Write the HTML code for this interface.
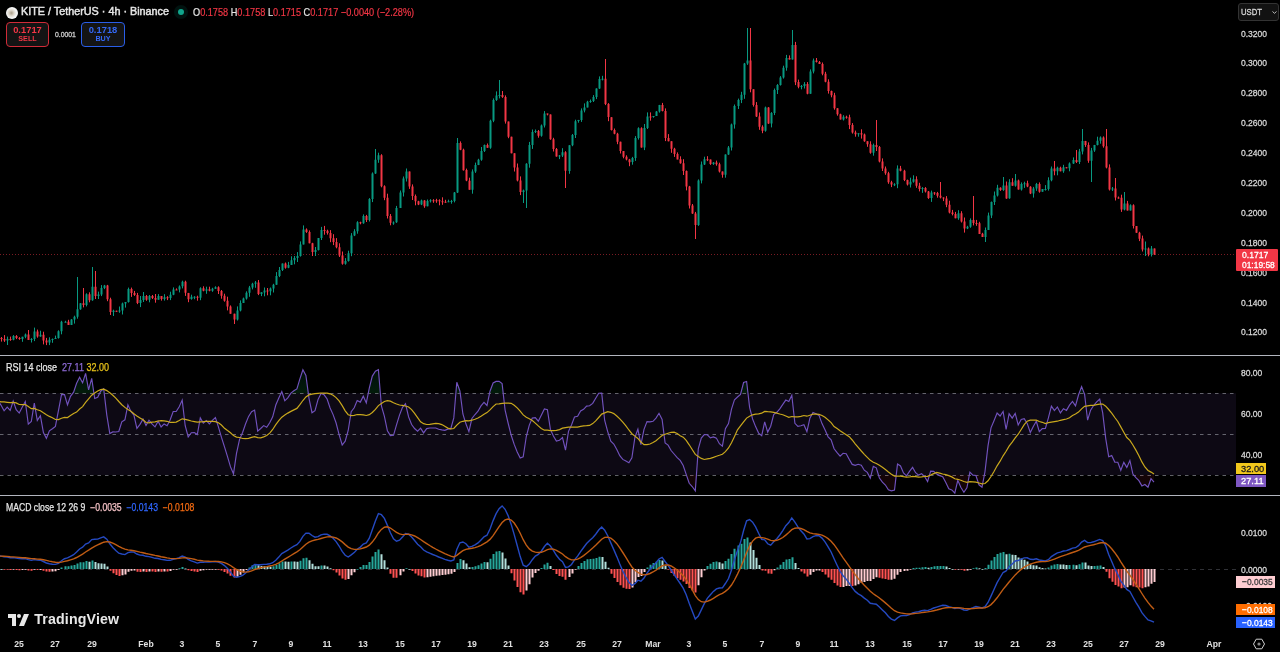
<!DOCTYPE html><html><head><meta charset="utf-8"><title>KITE / TetherUS</title><style>
*{margin:0;padding:0;box-sizing:border-box}
html,body{width:1280px;height:652px;background:#000;overflow:hidden}
body{position:relative;font-family:"Liberation Sans",Arial,sans-serif;color:#d1d4dc}
svg{position:absolute;left:0;top:0}
.t{position:absolute;white-space:nowrap;line-height:1}

</style></head><body>
<svg width="1280" height="652" viewBox="0 0 1280 652">
<defs><linearGradient id="obg" x1="0" y1="362.6" x2="0" y2="393.2" gradientUnits="userSpaceOnUse"><stop offset="0" stop-color="#089981" stop-opacity="0.05"/><stop offset="1" stop-color="#0c8a30" stop-opacity="0.2"/></linearGradient>
<linearGradient id="osg" x1="0" y1="475.0" x2="0" y2="505.6" gradientUnits="userSpaceOnUse"><stop offset="0" stop-color="#b2283a" stop-opacity="0.12"/><stop offset="1" stop-color="#f23645" stop-opacity="0.05"/></linearGradient></defs>
<rect x="0" y="393.2" width="1236" height="81.8" fill="#0d0914"/>
<path d="M0 393.5H1236" stroke="#a0a3ac" stroke-opacity="0.6" stroke-dasharray="3.5 4"/>
<path d="M0 434.5H1236" stroke="#a0a3ac" stroke-opacity="0.6" stroke-dasharray="3.5 4"/>
<path d="M0 475.5H1236" stroke="#a0a3ac" stroke-opacity="0.6" stroke-dasharray="3.5 4"/>
<path d="M0 569.5H1236" stroke="#787b86" stroke-opacity="0.4" stroke-dasharray="4 4"/>
<path d="M0 254.5H1236" stroke="#f23645" stroke-opacity="0.5" stroke-dasharray="1 2"/>
<path d="M-1.5 334.0V339.7 M7.5 336.6V345.0 M13.5 335.1V340.3 M22.5 336.8V341.8 M25.5 333.5V338.2 M31.5 338.1V342.5 M34.5 327.6V341.1 M40.5 330.7V336.7 M49.5 337.3V345.1 M52.5 338.5V342.8 M55.5 335.6V339.0 M58.5 330.3V338.6 M61.5 320.8V334.3 M65.5 320.8V322.3 M71.5 319.1V325.0 M74.5 315.7V323.6 M77.5 277.0V318.7 M80.5 303.2V309.8 M86.5 293.3V306.4 M92.5 267.0V300.8 M98.5 291.6V299.0 M101.5 285.1V296.1 M104.5 284.9V289.1 M113.5 309.7V316.0 M119.5 306.5V312.8 M122.5 302.6V314.5 M125.5 302.1V307.6 M128.5 287.6V302.6 M140.5 296.0V307.1 M143.5 292.0V302.0 M149.5 295.0V302.3 M158.5 294.1V299.7 M164.5 294.2V300.6 M170.5 291.7V300.1 M173.5 287.4V295.2 M179.5 285.4V292.4 M182.5 280.7V288.4 M191.5 294.7V299.7 M194.5 296.2V299.2 M200.5 287.3V300.2 M206.5 286.7V293.8 M212.5 287.8V291.8 M215.5 286.3V288.8 M237.5 306.4V320.5 M240.5 300.4V311.4 M243.5 297.6V302.9 M246.5 291.3V299.6 M249.5 285.9V296.8 M252.5 282.8V289.4 M255.5 281.0V287.8 M261.5 292.3V296.1 M264.5 287.5V296.3 M270.5 287.5V295.3 M273.5 283.8V292.5 M276.5 272.1V284.8 M279.5 267.0V277.1 M282.5 263.5V271.0 M288.5 261.9V268.2 M291.5 256.3V264.9 M294.5 256.0V264.3 M297.5 252.1V262.0 M300.5 241.4V256.6 M303.5 225.4V244.4 M315.5 247.0V256.0 M318.5 238.0V250.5 M321.5 226.9V240.0 M345.5 258.1V264.7 M348.5 250.7V261.6 M351.5 233.1V256.2 M354.5 229.2V236.1 M357.5 221.2V233.7 M363.5 214.4V223.8 M369.5 198.1V221.5 M372.5 172.4V202.1 M375.5 149.0V173.9 M378.5 152.7V162.8 M393.5 221.4V224.8 M396.5 205.9V222.9 M400.5 190.5V207.9 M403.5 176.5V196.5 M406.5 168.5V181.5 M421.5 199.6V205.1 M427.5 199.5V206.3 M430.5 199.2V202.5 M448.5 199.7V202.2 M451.5 199.9V203.7 M454.5 192.0V202.4 M457.5 138.0V193.0 M472.5 169.4V193.7 M475.5 162.6V172.9 M478.5 158.8V165.1 M481.5 147.0V160.8 M484.5 144.5V152.0 M490.5 119.7V148.8 M493.5 98.4V122.2 M496.5 91.4V100.9 M499.5 80.0V98.4 M523.5 189.6V203.0 M526.5 163.2V208.0 M529.5 141.9V167.7 M532.5 129.5V148.9 M535.5 129.5V133.0 M541.5 124.5V136.7 M544.5 111.1V127.5 M559.5 155.0V159.1 M562.5 148.2V157.0 M569.5 145.2V173.8 M572.5 134.0V146.2 M575.5 119.7V138.0 M578.5 119.9V122.7 M581.5 108.4V121.9 M584.5 103.4V112.4 M587.5 100.8V107.4 M590.5 99.5V102.8 M593.5 95.1V102.0 M596.5 88.4V99.1 M599.5 76.4V88.9 M602.5 75.8V80.4 M632.5 156.9V164.7 M635.5 136.1V160.9 M638.5 127.3V139.6 M644.5 124.0V150.1 M647.5 112.4V129.0 M653.5 116.0V117.7 M656.5 111.1V116.0 M659.5 104.9V112.6 M698.5 179.4V225.9 M701.5 161.5V183.4 M704.5 156.7V165.0 M713.5 162.1V164.9 M725.5 154.4V177.7 M728.5 146.0V154.9 M731.5 123.6V150.5 M734.5 104.5V128.6 M738.5 98.6V109.0 M741.5 91.8V103.1 M744.5 62.9V98.8 M747.5 28.0V64.9 M765.5 106.6V131.7 M771.5 112.1V127.4 M774.5 88.5V115.1 M777.5 84.1V94.0 M780.5 76.1V85.6 M783.5 65.7V78.6 M786.5 54.9V70.7 M792.5 30.0V59.5 M801.5 85.0V89.3 M804.5 82.1V88.5 M810.5 69.4V93.8 M813.5 58.5V73.4 M843.5 115.2V120.5 M858.5 133.3V136.7 M873.5 143.6V155.7 M894.5 183.2V186.1 M897.5 165.4V188.2 M910.5 177.7V187.5 M913.5 175.3V182.7 M922.5 187.1V192.9 M931.5 190.6V201.9 M958.5 210.2V219.8 M967.5 225.8V229.1 M970.5 218.4V227.8 M985.5 227.5V242.0 M988.5 212.6V230.0 M991.5 201.5V218.1 M994.5 191.5V205.0 M997.5 184.8V196.5 M1003.5 177.0V190.9 M1009.5 179.2V198.8 M1015.5 174.0V186.7 M1021.5 182.4V190.6 M1024.5 181.7V187.9 M1033.5 186.9V197.6 M1036.5 182.9V190.9 M1042.5 189.1V191.7 M1045.5 185.1V190.6 M1048.5 177.3V190.6 M1051.5 166.5V181.3 M1057.5 166.7V175.3 M1063.5 164.8V172.8 M1069.5 162.4V171.3 M1073.5 157.4V163.9 M1079.5 148.9V164.0 M1082.5 129.0V154.4 M1091.5 147.9V182.0 M1094.5 144.9V151.9 M1097.5 136.7V145.4 M1100.5 136.4V143.7 M1112.5 187.0V191.0 M1124.5 192.0V210.4 M1130.5 204.3V210.5 M1145.5 241.5V256.0 M1151.5 246.0V256.5" stroke="#089981" stroke-width="1"/>
<path d="M1.5 337.0V341.6 M4.5 335.1V341.9 M10.5 336.6V340.8 M16.5 335.1V339.1 M19.5 337.1V339.8 M28.5 330.0V340.0 M37.5 329.6V337.7 M43.5 331.7V344.4 M46.5 337.9V345.1 M68.5 319.8V325.0 M83.5 288.0V307.4 M89.5 292.3V302.3 M95.5 271.0V299.0 M107.5 284.9V301.2 M110.5 297.7V315.0 M116.5 310.7V311.8 M131.5 287.6V296.9 M134.5 290.9V295.9 M137.5 292.9V304.1 M146.5 295.0V300.8 M152.5 295.0V299.0 M155.5 294.0V302.7 M161.5 296.1V300.6 M167.5 296.2V300.1 M176.5 288.4V289.9 M185.5 280.7V295.9 M188.5 292.9V302.2 M197.5 295.7V300.7 M203.5 286.3V291.3 M209.5 286.7V291.3 M218.5 286.3V294.0 M221.5 290.0V298.7 M224.5 293.7V301.7 M227.5 296.7V310.4 M230.5 305.4V313.7 M234.5 313.7V324.0 M258.5 280.0V295.1 M267.5 288.0V295.3 M285.5 262.5V268.7 M306.5 228.4V232.9 M309.5 230.4V243.3 M312.5 242.8V256.0 M324.5 225.9V234.7 M327.5 229.7V234.6 M330.5 230.1V242.2 M333.5 234.2V245.1 M336.5 238.1V248.3 M339.5 243.3V257.0 M342.5 251.5V264.7 M360.5 221.7V224.3 M366.5 214.9V222.0 M381.5 154.2V187.3 M384.5 185.3V200.2 M387.5 193.7V218.5 M390.5 214.0V225.3 M409.5 171.5V188.9 M412.5 184.4V200.0 M415.5 194.5V205.3 M418.5 200.8V205.1 M424.5 200.1V207.8 M433.5 199.2V202.8 M436.5 198.8V202.8 M439.5 199.3V205.3 M442.5 197.3V204.8 M445.5 199.8V202.7 M460.5 141.4V150.2 M463.5 148.7V170.6 M466.5 168.6V181.2 M469.5 177.7V189.7 M487.5 143.5V147.8 M502.5 91.0V97.9 M505.5 95.4V123.6 M508.5 121.6V138.2 M511.5 136.7V153.3 M514.5 153.3V171.5 M517.5 163.5V181.4 M520.5 176.4V195.1 M538.5 130.0V137.7 M547.5 113.6V115.4 M550.5 114.4V139.8 M553.5 137.8V151.5 M556.5 148.0V156.6 M565.5 151.2V188.0 M605.5 59.0V105.1 M608.5 103.1V121.2 M611.5 117.2V130.5 M614.5 128.5V134.3 M617.5 132.8V144.2 M620.5 141.7V153.5 M623.5 151.0V158.3 M626.5 155.3V160.4 M629.5 158.9V166.2 M641.5 127.3V147.6 M650.5 112.4V120.7 M662.5 102.9V111.4 M665.5 108.4V141.1 M668.5 134.1V141.3 M671.5 141.3V152.8 M674.5 147.8V156.9 M677.5 152.4V159.3 M680.5 156.3V163.7 M683.5 159.2V175.0 M686.5 170.5V190.4 M689.5 185.9V208.5 M692.5 204.0V213.9 M695.5 211.9V239.0 M707.5 156.2V161.1 M710.5 159.6V164.9 M716.5 160.6V165.7 M719.5 162.7V172.5 M722.5 171.5V177.7 M750.5 28.0V92.3 M753.5 89.3V106.6 M756.5 102.1V117.0 M759.5 112.5V129.8 M762.5 125.3V133.2 M768.5 107.1V123.9 M789.5 55.4V59.5 M795.5 41.9V85.1 M798.5 79.6V88.3 M807.5 82.1V94.3 M816.5 58.0V62.5 M819.5 61.0V64.0 M822.5 62.5V75.3 M825.5 71.8V82.3 M828.5 79.3V93.6 M831.5 90.6V97.3 M834.5 92.8V109.7 M837.5 108.2V115.7 M840.5 113.7V119.5 M846.5 115.7V118.7 M849.5 114.7V129.1 M852.5 123.1V133.6 M855.5 130.6V136.7 M861.5 129.3V138.6 M864.5 133.6V141.8 M867.5 141.3V146.8 M870.5 141.3V153.7 M876.5 120.0V151.0 M879.5 146.0V162.4 M882.5 158.4V171.0 M885.5 166.5V174.8 M888.5 171.8V183.8 M891.5 180.8V187.1 M900.5 165.9V171.3 M904.5 169.8V181.1 M907.5 179.6V185.5 M916.5 176.3V187.8 M919.5 182.8V191.4 M925.5 187.1V192.5 M928.5 191.0V198.9 M934.5 192.1V194.9 M937.5 191.9V197.7 M940.5 182.0V198.4 M943.5 197.4V201.1 M946.5 196.1V207.2 M949.5 200.7V213.4 M952.5 209.9V215.4 M955.5 211.9V218.3 M961.5 211.2V222.5 M964.5 217.5V232.6 M973.5 196.0V225.4 M976.5 219.9V225.8 M979.5 221.8V233.8 M982.5 232.8V237.0 M1000.5 187.3V190.9 M1006.5 181.5V198.8 M1012.5 178.2V185.7 M1018.5 179.6V189.6 M1027.5 180.7V187.2 M1030.5 186.2V194.1 M1039.5 182.4V192.7 M1054.5 161.0V175.3 M1060.5 166.7V171.3 M1066.5 167.3V168.3 M1076.5 150.0V163.0 M1085.5 140.9V146.9 M1088.5 142.4V162.8 M1103.5 136.4V147.7 M1106.5 129.0V168.4 M1109.5 164.4V190.5 M1115.5 178.0V200.5 M1118.5 196.5V198.7 M1121.5 194.7V211.9 M1127.5 200.9V210.5 M1133.5 204.3V228.5 M1136.5 226.0V232.8 M1139.5 231.8V241.1 M1142.5 235.6V251.5 M1148.5 247.5V256.3 M1154.5 248.5V254.9" stroke="#f23645" stroke-width="1"/>
<path d="M-2.5 338.0h2v1.0h-2z M6.5 339.1h2v1.4h-2z M12.5 336.1h2v3.6h-2z M21.5 336.8h2v2.1h-2z M24.5 334.5h2v2.2h-2z M30.5 339.1h2v1.0h-2z M33.5 331.6h2v7.4h-2z M39.5 334.7h2v1.9h-2z M48.5 339.8h2v2.8h-2z M51.5 339.0h2v1.0h-2z M54.5 338.1h2v1.0h-2z M57.5 331.3h2v6.8h-2z M60.5 321.8h2v9.5h-2z M64.5 321.8h2v1.0h-2z M70.5 319.6h2v5.3h-2z M73.5 316.7h2v2.9h-2z M76.5 309.3h2v7.4h-2z M79.5 303.2h2v6.1h-2z M85.5 294.3h2v10.7h-2z M91.5 286.7h2v13.6h-2z M97.5 294.6h2v1.4h-2z M100.5 288.1h2v6.5h-2z M103.5 285.4h2v2.7h-2z M112.5 310.7h2v1.3h-2z M118.5 310.5h2v1.0h-2z M121.5 303.6h2v6.9h-2z M124.5 302.1h2v1.5h-2z M127.5 289.1h2v13.0h-2z M139.5 300.0h2v3.0h-2z M142.5 296.0h2v4.0h-2z M148.5 296.0h2v3.8h-2z M157.5 296.1h2v3.6h-2z M163.5 297.2h2v1.9h-2z M169.5 294.7h2v3.4h-2z M172.5 289.4h2v5.3h-2z M178.5 286.4h2v3.1h-2z M181.5 281.7h2v4.6h-2z M190.5 296.7h2v2.4h-2z M193.5 296.7h2v1.0h-2z M199.5 288.3h2v9.4h-2z M205.5 289.2h2v1.5h-2z M211.5 288.8h2v1.9h-2z M214.5 287.3h2v1.5h-2z M236.5 310.4h2v9.1h-2z M239.5 302.9h2v7.5h-2z M242.5 298.6h2v4.3h-2z M245.5 292.8h2v5.7h-2z M248.5 287.4h2v5.4h-2z M251.5 283.8h2v3.6h-2z M254.5 282.5h2v1.3h-2z M260.5 292.3h2v1.8h-2z M263.5 290.5h2v1.9h-2z M269.5 288.5h2v2.8h-2z M272.5 284.8h2v3.7h-2z M275.5 276.1h2v8.7h-2z M278.5 270.0h2v6.1h-2z M281.5 263.5h2v6.5h-2z M287.5 264.9h2v2.8h-2z M290.5 260.3h2v4.6h-2z M293.5 258.0h2v2.3h-2z M296.5 256.1h2v1.9h-2z M299.5 244.4h2v11.7h-2z M302.5 229.4h2v15.0h-2z M314.5 250.0h2v1.9h-2z M317.5 238.0h2v12.1h-2z M320.5 229.9h2v8.0h-2z M344.5 261.1h2v2.6h-2z M347.5 253.2h2v7.9h-2z M350.5 235.6h2v17.6h-2z M353.5 231.2h2v4.3h-2z M356.5 222.2h2v9.0h-2z M362.5 215.9h2v7.4h-2z M368.5 199.1h2v20.9h-2z M371.5 173.4h2v25.7h-2z M374.5 159.8h2v13.6h-2z M377.5 155.2h2v4.6h-2z M392.5 222.4h2v1.0h-2z M395.5 207.9h2v14.4h-2z M399.5 192.5h2v15.4h-2z M402.5 178.5h2v14.0h-2z M405.5 171.5h2v7.1h-2z M420.5 200.6h2v4.0h-2z M426.5 201.0h2v5.3h-2z M429.5 200.2h2v1.0h-2z M447.5 201.2h2v1.0h-2z M450.5 200.9h2v1.0h-2z M453.5 192.5h2v8.4h-2z M456.5 142.9h2v49.6h-2z M471.5 171.4h2v18.3h-2z M474.5 165.1h2v6.3h-2z M477.5 159.8h2v5.3h-2z M480.5 151.0h2v8.8h-2z M483.5 145.0h2v6.0h-2z M489.5 120.7h2v27.1h-2z M492.5 99.9h2v20.8h-2z M495.5 95.4h2v4.5h-2z M498.5 95.0h2v1.0h-2z M522.5 190.6h2v1.5h-2z M525.5 163.7h2v26.9h-2z M528.5 144.9h2v18.8h-2z M531.5 132.0h2v12.9h-2z M534.5 131.0h2v1.0h-2z M540.5 125.5h2v10.2h-2z M543.5 113.6h2v11.9h-2z M558.5 155.5h2v1.0h-2z M561.5 152.2h2v3.3h-2z M568.5 145.2h2v25.7h-2z M571.5 135.0h2v10.2h-2z M574.5 121.2h2v13.8h-2z M577.5 119.9h2v1.2h-2z M580.5 110.4h2v9.5h-2z M583.5 107.4h2v3.0h-2z M586.5 101.8h2v5.6h-2z M589.5 101.0h2v1.0h-2z M592.5 97.1h2v3.9h-2z M595.5 88.4h2v8.7h-2z M598.5 78.9h2v9.5h-2z M601.5 78.8h2v1.0h-2z M631.5 157.9h2v4.2h-2z M634.5 138.1h2v19.8h-2z M637.5 128.3h2v9.8h-2z M643.5 128.0h2v19.6h-2z M646.5 116.4h2v11.6h-2z M652.5 116.0h2v1.0h-2z M655.5 111.6h2v4.4h-2z M658.5 104.9h2v6.7h-2z M697.5 180.4h2v44.5h-2z M700.5 164.5h2v15.9h-2z M703.5 159.2h2v5.3h-2z M712.5 162.6h2v1.3h-2z M724.5 154.4h2v20.3h-2z M727.5 147.5h2v6.9h-2z M730.5 124.6h2v22.8h-2z M733.5 106.0h2v18.6h-2z M737.5 100.1h2v5.9h-2z M740.5 94.8h2v5.3h-2z M743.5 63.4h2v31.4h-2z M746.5 60.4h2v3.0h-2z M764.5 107.6h2v23.1h-2z M770.5 113.1h2v10.3h-2z M773.5 90.0h2v23.1h-2z M776.5 85.1h2v4.9h-2z M779.5 77.6h2v7.5h-2z M782.5 67.7h2v9.9h-2z M785.5 57.9h2v9.8h-2z M791.5 44.9h2v14.6h-2z M800.5 86.0h2v1.0h-2z M803.5 84.1h2v2.0h-2z M809.5 71.4h2v22.4h-2z M812.5 60.5h2v10.9h-2z M842.5 116.7h2v2.8h-2z M857.5 133.3h2v1.0h-2z M872.5 145.1h2v7.6h-2z M893.5 184.2h2v1.0h-2z M896.5 168.4h2v15.8h-2z M909.5 181.7h2v2.8h-2z M912.5 179.3h2v2.4h-2z M921.5 188.1h2v1.0h-2z M930.5 192.6h2v5.3h-2z M957.5 213.2h2v5.1h-2z M966.5 226.8h2v1.8h-2z M969.5 219.9h2v6.9h-2z M984.5 230.0h2v6.9h-2z M987.5 215.6h2v14.4h-2z M990.5 202.0h2v13.6h-2z M993.5 195.5h2v6.5h-2z M996.5 187.8h2v7.7h-2z M1002.5 185.5h2v4.4h-2z M1008.5 182.2h2v16.1h-2z M1014.5 180.6h2v5.1h-2z M1020.5 183.9h2v5.7h-2z M1023.5 183.2h2v1.0h-2z M1032.5 188.4h2v5.1h-2z M1035.5 183.9h2v4.5h-2z M1041.5 189.1h2v2.6h-2z M1044.5 189.1h2v1.0h-2z M1047.5 180.3h2v8.8h-2z M1050.5 168.5h2v11.8h-2z M1056.5 167.7h2v3.6h-2z M1062.5 167.3h2v4.0h-2z M1068.5 163.4h2v4.9h-2z M1072.5 159.9h2v3.5h-2z M1078.5 151.4h2v10.7h-2z M1081.5 140.9h2v10.5h-2z M1090.5 150.4h2v10.3h-2z M1093.5 144.9h2v5.5h-2z M1096.5 140.7h2v4.3h-2z M1099.5 137.4h2v3.3h-2z M1111.5 188.5h2v1.0h-2z M1123.5 203.4h2v6.0h-2z M1129.5 205.3h2v5.3h-2z M1144.5 248.5h2v1.0h-2z M1150.5 248.5h2v5.8h-2z" fill="#089981"/>
<path d="M0.5 338.0h2v1.1h-2z M3.5 339.1h2v1.3h-2z M9.5 339.1h2v1.0h-2z M15.5 336.1h2v1.9h-2z M18.5 338.1h2v1.0h-2z M27.5 334.5h2v5.5h-2z M36.5 331.6h2v5.0h-2z M42.5 334.7h2v5.7h-2z M45.5 340.4h2v2.2h-2z M67.5 321.8h2v3.1h-2z M82.5 303.2h2v1.8h-2z M88.5 294.3h2v6.0h-2z M94.5 286.7h2v9.3h-2z M106.5 285.4h2v13.8h-2z M109.5 299.2h2v12.8h-2z M115.5 310.7h2v1.0h-2z M130.5 289.1h2v3.8h-2z M133.5 292.9h2v2.1h-2z M136.5 294.9h2v8.1h-2z M145.5 296.0h2v3.7h-2z M151.5 296.0h2v2.0h-2z M154.5 298.0h2v1.7h-2z M160.5 296.1h2v3.0h-2z M166.5 297.2h2v1.0h-2z M175.5 289.4h2v1.0h-2z M184.5 281.7h2v11.1h-2z M187.5 292.9h2v6.3h-2z M196.5 296.7h2v1.0h-2z M202.5 288.3h2v2.5h-2z M208.5 289.2h2v1.5h-2z M217.5 287.3h2v3.7h-2z M220.5 291.0h2v4.7h-2z M223.5 295.7h2v5.0h-2z M226.5 300.7h2v5.8h-2z M229.5 306.4h2v7.3h-2z M233.5 313.7h2v5.8h-2z M257.5 282.5h2v11.6h-2z M266.5 290.5h2v1.0h-2z M284.5 263.5h2v4.2h-2z M305.5 229.4h2v2.6h-2z M308.5 231.9h2v11.4h-2z M311.5 243.3h2v8.6h-2z M323.5 229.9h2v1.0h-2z M326.5 230.7h2v2.4h-2z M329.5 233.1h2v5.1h-2z M332.5 238.2h2v3.9h-2z M335.5 242.1h2v5.2h-2z M338.5 247.3h2v8.2h-2z M341.5 255.5h2v8.2h-2z M359.5 222.2h2v1.0h-2z M365.5 215.9h2v4.1h-2z M380.5 155.2h2v31.1h-2z M383.5 186.3h2v11.4h-2z M386.5 197.7h2v18.2h-2z M389.5 216.0h2v6.8h-2z M408.5 171.5h2v15.0h-2z M411.5 186.4h2v9.6h-2z M414.5 196.0h2v5.3h-2z M417.5 201.3h2v3.3h-2z M423.5 200.6h2v5.7h-2z M432.5 200.2h2v1.0h-2z M435.5 200.3h2v1.0h-2z M438.5 200.3h2v1.0h-2z M441.5 201.3h2v1.0h-2z M444.5 201.8h2v1.0h-2z M459.5 142.9h2v6.8h-2z M462.5 149.7h2v20.5h-2z M465.5 170.1h2v10.5h-2z M468.5 180.7h2v9.1h-2z M486.5 145.0h2v2.8h-2z M501.5 95.0h2v1.9h-2z M504.5 96.9h2v24.7h-2z M507.5 121.6h2v15.1h-2z M510.5 136.7h2v16.5h-2z M513.5 153.3h2v14.2h-2z M516.5 167.5h2v12.9h-2z M519.5 180.4h2v11.7h-2z M537.5 131.0h2v4.7h-2z M546.5 113.6h2v1.0h-2z M549.5 114.4h2v24.9h-2z M552.5 139.3h2v9.7h-2z M555.5 149.0h2v7.5h-2z M564.5 152.2h2v18.6h-2z M604.5 78.8h2v25.3h-2z M607.5 104.1h2v13.0h-2z M610.5 117.2h2v12.8h-2z M613.5 130.0h2v3.8h-2z M616.5 133.8h2v7.9h-2z M619.5 141.7h2v9.4h-2z M622.5 151.0h2v5.8h-2z M625.5 156.8h2v2.6h-2z M628.5 159.4h2v2.8h-2z M640.5 128.3h2v19.3h-2z M649.5 116.4h2v1.0h-2z M661.5 104.9h2v6.0h-2z M664.5 110.9h2v27.2h-2z M667.5 138.1h2v3.2h-2z M670.5 141.3h2v7.5h-2z M673.5 148.8h2v5.1h-2z M676.5 153.9h2v5.5h-2z M679.5 159.3h2v3.9h-2z M682.5 163.2h2v7.8h-2z M685.5 171.0h2v15.4h-2z M688.5 186.4h2v19.1h-2z M691.5 205.5h2v7.9h-2z M694.5 213.4h2v11.5h-2z M706.5 159.2h2v1.0h-2z M709.5 159.6h2v4.4h-2z M715.5 162.6h2v1.6h-2z M718.5 164.2h2v7.3h-2z M721.5 171.5h2v3.2h-2z M749.5 60.4h2v28.9h-2z M752.5 89.3h2v15.7h-2z M755.5 105.1h2v11.4h-2z M758.5 116.5h2v10.3h-2z M761.5 126.8h2v3.9h-2z M767.5 107.6h2v15.8h-2z M788.5 57.9h2v1.6h-2z M794.5 44.9h2v37.3h-2z M797.5 82.1h2v4.7h-2z M806.5 84.1h2v9.7h-2z M815.5 60.5h2v1.5h-2z M818.5 62.0h2v2.0h-2z M821.5 64.0h2v9.8h-2z M824.5 73.8h2v7.9h-2z M827.5 81.8h2v9.3h-2z M830.5 91.1h2v4.2h-2z M833.5 95.3h2v12.9h-2z M836.5 108.2h2v6.0h-2z M839.5 114.2h2v5.3h-2z M845.5 116.7h2v1.0h-2z M848.5 117.2h2v7.9h-2z M851.5 125.1h2v7.5h-2z M854.5 132.6h2v1.6h-2z M860.5 133.3h2v1.3h-2z M863.5 134.6h2v6.7h-2z M866.5 141.3h2v3.0h-2z M869.5 144.3h2v8.4h-2z M875.5 145.1h2v1.8h-2z M878.5 147.0h2v14.4h-2z M881.5 161.4h2v7.1h-2z M884.5 168.5h2v4.8h-2z M887.5 173.3h2v9.0h-2z M890.5 182.3h2v2.3h-2z M899.5 168.4h2v2.4h-2z M903.5 170.8h2v9.3h-2z M906.5 180.1h2v4.3h-2z M915.5 179.3h2v6.5h-2z M918.5 185.8h2v3.1h-2z M924.5 188.1h2v3.4h-2z M927.5 191.5h2v6.4h-2z M933.5 192.6h2v1.0h-2z M936.5 192.9h2v2.8h-2z M939.5 195.7h2v1.7h-2z M942.5 197.4h2v1.2h-2z M945.5 198.6h2v6.1h-2z M948.5 204.7h2v7.7h-2z M951.5 212.4h2v1.5h-2z M954.5 213.9h2v4.4h-2z M960.5 213.2h2v8.3h-2z M963.5 221.5h2v7.0h-2z M972.5 219.9h2v3.0h-2z M975.5 222.9h2v1.0h-2z M978.5 223.3h2v10.6h-2z M981.5 233.8h2v3.1h-2z M999.5 187.8h2v2.1h-2z M1005.5 185.5h2v12.9h-2z M1011.5 182.2h2v3.5h-2z M1017.5 180.6h2v9.0h-2z M1026.5 183.2h2v3.4h-2z M1029.5 186.7h2v6.9h-2z M1038.5 183.9h2v7.8h-2z M1053.5 168.5h2v2.8h-2z M1059.5 167.7h2v3.6h-2z M1065.5 167.3h2v1.0h-2z M1075.5 159.9h2v2.2h-2z M1084.5 140.9h2v4.0h-2z M1087.5 144.9h2v15.9h-2z M1102.5 137.4h2v8.8h-2z M1105.5 146.2h2v21.2h-2z M1108.5 167.4h2v22.2h-2z M1114.5 188.5h2v9.0h-2z M1117.5 197.5h2v1.0h-2z M1120.5 197.7h2v11.7h-2z M1126.5 203.4h2v7.2h-2z M1132.5 205.3h2v20.7h-2z M1135.5 226.0h2v6.8h-2z M1138.5 232.8h2v5.9h-2z M1141.5 238.6h2v10.9h-2z M1147.5 248.5h2v5.8h-2z M1153.5 248.5h2v6.1h-2z" fill="#f23645"/>
<polygon points="72.8,393.2 73.6,392.2 76.6,383.2 79.6,377.2 82.6,382.8 85.6,373.3 88.6,389.9 91.7,378.4 93.9,393.2" fill="url(#obg)"/>
<polygon points="99.7,393.2 100.7,391.2 103.7,388.9 104.2,393.2" fill="url(#obg)"/>
<polygon points="281.1,393.2 281.8,391.6 282.3,393.2" fill="url(#obg)"/>
<polygon points="290.8,393.2 290.9,393.1 293.9,390.8 296.9,388.9 299.9,378.8 302.9,369.7 305.9,375.5 308.3,393.2" fill="url(#obg)"/>
<polygon points="368.3,393.2 369.3,388.2 372.3,376.1 375.4,371.2 378.4,369.7 380.3,393.2" fill="url(#obg)"/>
<polygon points="455.9,393.2 456.8,382.2 459.9,391.0 460.1,393.2" fill="url(#obg)"/>
<polygon points="489.6,393.2 490.0,391.2 493.1,383.0 496.1,381.4 499.1,381.3 502.1,383.6 503.2,393.2" fill="url(#obg)"/>
<polygon points="600.7,393.2 601.7,393.2 601.7,393.2" fill="url(#obg)"/>
<polygon points="740.9,393.2 743.6,382.5 746.6,381.5 747.9,393.2" fill="url(#obg)"/>
<polygon points="1079.2,393.2 1081.6,386.6 1084.1,393.2" fill="url(#obg)"/>
<polygon points="686.4,475.0 689.2,483.3 692.2,486.5 695.3,490.8 696.4,475.0" fill="url(#osg)"/>
<polygon points="868.6,475.0 870.3,478.1 871.1,475.0" fill="url(#osg)"/>
<polygon points="878.5,475.0 879.4,478.0 882.4,482.2 885.4,485.0 888.4,489.7 891.4,490.8 894.5,490.1 896.2,475.0" fill="url(#osg)"/>
<polygon points="905.6,475.0 906.5,475.9 907.2,475.0" fill="url(#osg)"/>
<polygon points="918.5,475.0 918.6,475.1 918.8,475.0" fill="url(#osg)"/>
<polygon points="923.0,475.0 924.6,476.5 927.6,481.5 929.5,475.0" fill="url(#osg)"/>
<polygon points="938.5,475.0 939.7,475.6 942.7,476.8 945.8,482.6 948.8,488.8 951.8,489.9 954.8,493.1 957.8,480.3 960.8,487.2 963.9,492.2 966.9,487.8 969.4,475.0" fill="url(#osg)"/>
<polygon points="972.8,475.0 972.9,475.1 975.9,475.5 979.0,484.8 982.0,487.3 984.3,475.0" fill="url(#osg)"/>
<polygon points="1133.7,475.0 1135.9,477.6 1138.9,480.7 1141.9,485.9 1144.9,484.5 1148.0,487.3 1151.0,478.7 1154.0,482.1 1154.0,475.0" fill="url(#osg)"/>
<polyline points="-1.9,400.8 1.1,405.3 4.1,410.8 7.2,407.2 10.2,410.4 13.2,401.1 16.2,409.7 19.2,413.1 22.2,407.2 25.3,401.5 28.3,424.2 31.3,421.5 34.3,403.1 37.3,420.4 40.4,415.8 43.4,432.5 46.4,438.3 49.4,430.8 52.4,428.8 55.4,426.4 58.5,410.4 61.5,394.6 64.5,394.6 67.5,404.8 70.5,396.3 73.6,392.2 76.6,383.2 79.6,377.2 82.6,382.8 85.6,373.3 88.6,389.9 91.7,378.4 94.7,398.5 97.7,397.2 100.7,391.2 103.7,388.9 106.8,415.1 109.8,433.5 112.8,431.9 115.8,432.0 118.8,431.5 121.8,421.8 124.9,419.8 127.9,404.8 130.9,411.5 133.9,415.1 136.9,428.4 140.0,424.4 143.0,419.1 146.0,425.4 149.0,420.2 152.0,423.9 155.0,426.9 158.1,421.2 161.1,427.0 164.1,423.9 167.1,425.8 170.1,419.9 173.2,411.5 176.2,411.5 179.2,406.7 182.2,400.1 185.2,425.7 188.2,437.0 191.3,432.7 194.3,432.6 197.3,434.6 200.3,418.0 203.3,423.1 206.3,420.5 209.4,423.9 212.4,420.3 215.4,417.5 218.4,426.8 221.4,437.2 224.5,446.9 227.5,456.6 230.5,466.9 233.5,473.8 236.5,453.3 239.5,439.6 242.6,432.5 245.6,423.8 248.6,416.4 251.6,411.8 254.6,410.1 257.7,431.1 260.7,428.5 263.7,425.6 266.7,427.2 269.7,422.7 272.7,416.8 275.8,405.0 278.8,398.1 281.8,391.6 284.8,400.8 287.8,397.8 290.9,393.1 293.9,390.8 296.9,388.9 299.9,378.8 302.9,369.7 305.9,375.5 309.0,398.3 312.0,412.7 315.0,410.7 318.0,399.6 321.0,393.4 324.1,394.8 327.1,399.0 330.1,408.0 333.1,414.6 336.1,423.0 339.1,434.7 342.2,445.0 345.2,441.2 348.2,430.5 351.2,411.7 354.2,407.8 357.2,400.5 360.3,402.1 363.3,396.2 366.3,402.9 369.3,388.2 372.3,376.1 375.4,371.2 378.4,369.7 381.4,406.0 384.4,416.4 387.4,430.8 390.4,435.6 393.5,435.3 396.5,424.8 399.5,415.1 402.5,407.4 405.5,403.8 408.6,416.9 411.6,424.5 414.6,428.5 417.6,431.1 420.6,428.1 423.6,432.9 426.7,428.6 429.7,428.0 432.7,428.0 435.7,428.0 438.7,429.2 441.8,429.9 444.8,430.3 447.8,429.1 450.8,428.7 453.8,417.9 456.8,382.2 459.9,391.0 462.9,414.0 465.9,423.8 468.9,431.6 471.9,418.5 475.0,414.5 478.0,411.2 481.0,405.9 484.0,402.4 487.0,405.5 490.0,391.2 493.1,383.0 496.1,381.4 499.1,381.3 502.1,383.6 505.1,410.1 508.1,423.0 511.2,435.3 514.2,444.4 517.2,451.9 520.2,458.1 523.2,456.9 526.3,436.5 529.3,425.1 532.3,418.1 535.3,417.6 538.3,421.2 541.3,415.3 544.4,408.9 547.4,409.6 550.4,429.4 553.4,436.0 556.4,441.0 559.5,440.2 562.5,437.6 565.5,450.2 568.5,431.3 571.5,425.0 574.5,417.0 577.6,416.3 580.6,411.0 583.6,409.3 586.6,406.1 589.6,405.7 592.7,403.4 595.7,398.3 598.7,393.3 601.7,393.2 604.7,420.5 607.7,431.6 610.8,441.3 613.8,444.0 616.8,449.5 619.8,455.7 622.8,459.4 625.9,461.0 628.9,462.8 631.9,457.8 634.9,437.5 637.9,429.2 640.9,444.6 644.0,429.3 647.0,421.6 650.0,421.8 653.0,421.3 656.0,418.1 659.0,413.3 662.1,419.5 665.1,442.9 668.1,445.1 671.1,450.5 674.1,454.0 677.2,457.7 680.2,460.4 683.2,465.5 686.2,474.4 689.2,483.3 692.2,486.5 695.3,490.8 698.3,448.8 701.3,438.0 704.3,434.6 707.3,434.8 710.4,437.8 713.4,436.9 716.4,438.1 719.4,443.7 722.4,446.1 725.4,428.7 728.5,423.6 731.5,409.1 734.5,399.7 737.5,397.0 740.5,394.5 743.6,382.5 746.6,381.5 749.6,407.4 752.6,419.0 755.6,426.6 758.6,433.1 761.7,435.6 764.7,421.9 767.7,432.1 770.7,426.2 773.7,414.6 776.8,412.3 779.8,408.8 782.8,404.4 785.8,400.1 788.8,401.5 791.8,395.2 794.9,423.3 797.9,426.3 800.9,425.8 803.9,424.7 806.9,431.6 809.9,418.2 813.0,412.5 816.0,413.7 819.0,415.4 822.0,423.6 825.0,429.8 828.1,436.8 831.1,439.9 834.1,448.8 837.1,452.7 840.1,456.1 843.1,453.3 846.2,453.7 849.2,459.3 852.2,464.4 855.2,465.4 858.2,464.3 861.3,465.2 864.3,470.2 867.3,472.4 870.3,478.1 873.3,466.4 876.3,467.8 879.4,478.0 882.4,482.2 885.4,485.0 888.4,489.7 891.4,490.8 894.5,490.1 897.5,464.1 900.5,466.0 903.5,473.0 906.5,475.9 909.5,471.4 912.6,467.4 915.6,472.7 918.6,475.1 921.6,473.7 924.6,476.5 927.6,481.5 930.7,471.1 933.7,471.4 936.7,474.1 939.7,475.6 942.7,476.8 945.8,482.6 948.8,488.8 951.8,489.9 954.8,493.1 957.8,480.3 960.8,487.2 963.9,492.2 966.9,487.8 969.9,472.2 972.9,475.1 975.9,475.5 979.0,484.8 982.0,487.3 985.0,471.6 988.0,445.9 991.0,427.9 994.0,420.7 997.1,413.0 1000.1,416.0 1003.1,411.5 1006.1,429.5 1009.1,413.6 1012.2,418.1 1015.2,413.4 1018.2,425.0 1021.2,419.4 1024.2,418.7 1027.2,423.4 1030.3,432.4 1033.3,426.4 1036.3,421.3 1039.3,431.7 1042.3,428.6 1045.4,428.5 1048.4,417.9 1051.4,406.1 1054.4,410.5 1057.4,407.0 1060.4,412.9 1063.5,408.7 1066.5,410.4 1069.5,405.1 1072.5,401.4 1075.5,405.8 1078.5,395.0 1081.6,386.6 1084.6,394.4 1087.6,420.2 1090.6,410.2 1093.6,405.5 1096.7,401.9 1099.7,399.2 1102.7,412.9 1105.7,438.3 1108.7,456.8 1111.7,455.6 1114.8,462.1 1117.8,462.3 1120.8,470.3 1123.8,462.4 1126.8,467.4 1129.9,460.5 1132.9,474.0 1135.9,477.6 1138.9,480.7 1141.9,485.9 1144.9,484.5 1148.0,487.3 1151.0,478.7 1154.0,482.1" fill="none" stroke="#7152bd" stroke-width="1.15"/>
<polyline points="-1.9,401.0 1.1,401.8 4.1,401.9 7.2,402.3 10.2,402.7 13.2,402.4 16.2,402.9 19.2,404.5 22.2,404.6 25.3,404.6 28.3,406.5 31.3,408.7 34.3,408.4 37.3,409.7 40.4,410.8 43.4,412.8 46.4,414.7 49.4,416.4 52.4,417.7 55.4,419.5 58.5,419.6 61.5,418.3 64.5,417.4 67.5,417.6 70.5,415.6 73.6,413.5 76.6,412.1 79.6,409.0 82.6,406.6 85.6,402.4 88.6,398.9 91.7,395.2 94.7,393.0 97.7,391.0 100.7,389.6 103.7,389.2 106.8,390.6 109.8,392.7 112.8,395.2 115.8,398.1 118.8,401.5 121.8,404.7 124.9,407.4 127.9,409.6 130.9,411.2 133.9,413.8 136.9,415.9 140.0,417.9 143.0,419.8 146.0,422.5 149.0,422.8 152.0,422.1 155.0,421.8 158.1,421.0 161.1,420.7 164.1,420.8 167.1,421.3 170.1,422.3 173.2,422.3 176.2,422.1 179.2,420.5 182.2,418.8 185.2,419.3 188.2,420.1 191.3,421.0 194.3,421.6 197.3,422.2 200.3,421.9 203.3,421.7 206.3,421.4 209.4,421.3 212.4,421.3 215.4,421.7 218.4,422.8 221.4,425.0 224.5,428.3 227.5,430.6 230.5,432.7 233.5,435.6 236.5,437.1 239.5,437.5 242.6,438.5 245.6,438.6 248.6,438.3 251.6,437.4 254.6,436.7 257.7,437.6 260.7,437.8 263.7,436.9 266.7,435.5 269.7,433.1 272.7,429.5 275.8,424.6 278.8,420.7 281.8,417.2 284.8,415.0 287.8,413.1 290.9,411.4 293.9,409.9 296.9,408.4 299.9,404.7 302.9,400.5 305.9,396.9 309.0,394.9 312.0,394.1 315.0,393.7 318.0,393.3 321.0,393.0 324.1,393.2 327.1,393.1 330.1,393.8 333.1,395.3 336.1,397.6 339.1,400.9 342.2,405.6 345.2,410.8 348.2,414.7 351.2,415.6 354.2,415.3 357.2,414.5 360.3,414.7 363.3,414.9 366.3,415.5 369.3,414.7 372.3,412.5 375.4,409.4 378.4,405.6 381.4,403.5 384.4,401.5 387.4,400.7 390.4,401.1 393.5,402.8 396.5,404.0 399.5,405.0 402.5,405.4 405.5,406.0 408.6,407.0 411.6,409.6 414.6,413.3 417.6,417.6 420.6,421.8 423.6,423.7 426.7,424.5 429.7,424.3 432.7,423.8 435.7,423.3 438.7,423.6 441.8,424.6 444.8,426.3 447.8,428.1 450.8,428.9 453.8,428.5 456.8,425.1 459.9,422.3 462.9,421.3 465.9,420.6 468.9,420.8 471.9,420.2 475.0,419.2 478.0,418.0 481.0,416.3 484.0,414.3 487.0,412.6 490.0,409.9 493.1,406.6 496.1,404.0 499.1,403.9 502.1,403.4 505.1,403.1 508.1,403.1 511.2,403.3 514.2,405.2 517.2,407.9 520.2,411.2 523.2,414.9 526.3,417.3 529.3,418.7 532.3,420.6 535.3,423.1 538.3,425.9 541.3,428.4 544.4,430.2 547.4,430.1 550.4,430.6 553.4,430.6 556.4,430.4 559.5,429.6 562.5,428.1 565.5,427.6 568.5,427.2 571.5,427.2 574.5,427.2 577.6,427.1 580.6,426.3 583.6,425.9 586.6,425.7 589.6,425.4 592.7,423.6 595.7,420.9 598.7,417.5 601.7,414.1 604.7,412.9 607.7,411.6 610.8,412.3 613.8,413.6 616.8,416.0 619.8,418.8 622.8,422.2 625.9,425.9 628.9,430.0 631.9,433.7 634.9,436.1 637.9,438.4 640.9,442.0 644.0,444.6 647.0,444.7 650.0,444.0 653.0,442.5 656.0,440.7 659.0,438.1 662.1,435.5 665.1,434.3 668.1,433.2 671.1,432.3 674.1,432.1 677.2,433.5 680.2,435.7 683.2,437.2 686.2,440.4 689.2,444.8 692.2,449.5 695.3,454.4 698.3,456.6 701.3,458.4 704.3,459.5 707.3,458.9 710.4,458.4 713.4,457.4 716.4,456.3 719.4,455.3 722.4,454.2 725.4,451.6 728.5,448.0 731.5,442.7 734.5,436.5 737.5,429.8 740.5,425.9 743.6,421.9 746.6,418.1 749.6,416.2 752.6,414.8 755.6,414.1 758.6,413.8 761.7,413.2 764.7,411.4 767.7,411.7 770.7,411.9 773.7,412.3 776.8,413.2 779.8,414.0 782.8,414.7 785.8,416.0 788.8,417.4 791.8,416.5 794.9,416.8 797.9,416.8 800.9,416.3 803.9,415.5 806.9,416.2 809.9,415.2 813.0,414.2 816.0,414.2 819.0,414.4 822.0,415.5 825.0,417.3 828.1,419.9 831.1,422.6 834.1,426.5 837.1,428.6 840.1,430.7 843.1,432.7 846.2,434.7 849.2,436.7 852.2,440.0 855.2,443.8 858.2,447.4 861.3,451.0 864.3,454.3 867.3,457.3 870.3,460.3 873.3,462.2 876.3,463.5 879.4,465.3 882.4,467.2 885.4,469.5 888.4,472.0 891.4,474.3 894.5,476.1 897.5,476.0 900.5,476.1 903.5,476.7 906.5,477.1 909.5,477.0 912.6,476.3 915.6,476.7 918.6,477.2 921.6,476.9 924.6,476.5 927.6,476.3 930.7,475.0 933.7,473.6 936.7,472.4 939.7,473.2 942.7,474.0 945.8,474.7 948.8,475.6 951.8,476.9 954.8,478.8 957.8,479.3 960.8,480.2 963.9,481.5 966.9,482.3 969.9,481.6 972.9,481.9 975.9,482.2 979.0,483.0 982.0,483.8 985.0,483.5 988.0,480.8 991.0,476.5 994.0,471.5 997.1,465.8 1000.1,461.2 1003.1,455.8 1006.1,451.3 1009.1,446.1 1012.2,442.2 1015.2,437.8 1018.2,434.2 1021.2,429.5 1024.2,424.6 1027.2,421.2 1030.3,420.2 1033.3,420.1 1036.3,420.1 1039.3,421.5 1042.3,422.3 1045.4,423.6 1048.4,422.7 1051.4,422.2 1054.4,421.7 1057.4,421.2 1060.4,420.3 1063.5,419.6 1066.5,419.0 1069.5,417.7 1072.5,415.5 1075.5,414.0 1078.5,412.1 1081.6,408.9 1084.6,406.4 1087.6,405.8 1090.6,405.3 1093.6,405.3 1096.7,404.6 1099.7,404.1 1102.7,404.1 1105.7,406.2 1108.7,409.5 1111.7,413.1 1114.8,417.5 1117.8,421.5 1120.8,426.9 1123.8,432.3 1126.8,437.5 1129.9,440.4 1132.9,445.0 1135.9,450.1 1138.9,455.7 1141.9,461.9 1144.9,467.0 1148.0,470.5 1151.0,472.1 1154.0,474.0" fill="none" stroke="#c9a81d" stroke-width="1.2"/>
<path d="M-2.5 568.6h2v0.8h-2z M60.5 567.6h2v1.4h-2z M64.5 566.3h2v2.7h-2z M67.5 566.2h2v2.8h-2z M70.5 565.5h2v3.5h-2z M73.5 564.9h2v4.1h-2z M76.5 563.6h2v5.4h-2z M79.5 562.3h2v6.7h-2z M82.5 562.2h2v6.8h-2z M85.5 560.9h2v8.1h-2z M91.5 560.5h2v8.5h-2z M178.5 568.2h2v0.8h-2z M181.5 567.1h2v1.9h-2z M248.5 567.4h2v1.6h-2z M251.5 565.3h2v3.7h-2z M254.5 564.0h2v5.0h-2z M272.5 566.3h2v2.7h-2z M275.5 564.9h2v4.1h-2z M278.5 563.2h2v5.8h-2z M281.5 561.6h2v7.4h-2z M290.5 561.5h2v7.5h-2z M299.5 560.7h2v8.3h-2z M302.5 558.2h2v10.8h-2z M305.5 557.8h2v11.2h-2z M320.5 565.4h2v3.6h-2z M356.5 568.9h2v0.8h-2z M359.5 567.1h2v1.9h-2z M362.5 565.1h2v3.9h-2z M365.5 564.9h2v4.1h-2z M368.5 562.0h2v7.0h-2z M371.5 556.6h2v12.4h-2z M374.5 552.0h2v17.0h-2z M377.5 549.6h2v19.4h-2z M405.5 568.2h2v0.8h-2z M456.5 563.1h2v5.9h-2z M459.5 559.0h2v10.0h-2z M471.5 567.0h2v2.0h-2z M474.5 566.2h2v2.8h-2z M477.5 565.2h2v3.8h-2z M480.5 563.6h2v5.4h-2z M483.5 562.1h2v6.9h-2z M489.5 558.7h2v10.3h-2z M492.5 554.0h2v15.0h-2z M495.5 551.4h2v17.6h-2z M498.5 551.0h2v18.0h-2z M540.5 567.9h2v1.1h-2z M543.5 564.4h2v4.6h-2z M546.5 562.8h2v6.2h-2z M577.5 566.0h2v3.0h-2z M580.5 562.9h2v6.1h-2z M583.5 560.9h2v8.1h-2z M586.5 559.3h2v9.7h-2z M589.5 558.9h2v10.1h-2z M592.5 558.7h2v10.3h-2z M595.5 557.9h2v11.1h-2z M598.5 556.7h2v12.3h-2z M646.5 567.6h2v1.4h-2z M649.5 564.8h2v4.2h-2z M652.5 563.1h2v5.9h-2z M655.5 561.7h2v7.3h-2z M658.5 560.1h2v8.9h-2z M706.5 566.0h2v3.0h-2z M709.5 563.8h2v5.2h-2z M712.5 562.1h2v6.9h-2z M715.5 561.4h2v7.6h-2z M724.5 561.1h2v7.9h-2z M727.5 558.7h2v10.3h-2z M730.5 554.0h2v15.0h-2z M733.5 548.7h2v20.3h-2z M737.5 545.5h2v23.5h-2z M740.5 543.8h2v25.2h-2z M743.5 539.1h2v29.9h-2z M746.5 537.4h2v31.6h-2z M776.5 567.4h2v1.6h-2z M779.5 564.8h2v4.2h-2z M782.5 562.1h2v6.9h-2z M785.5 559.5h2v9.5h-2z M788.5 559.0h2v10.0h-2z M791.5 557.2h2v11.8h-2z M912.5 568.0h2v1.0h-2z M915.5 567.7h2v1.3h-2z M918.5 567.7h2v1.3h-2z M921.5 567.2h2v1.8h-2z M924.5 567.1h2v1.9h-2z M930.5 567.0h2v2.0h-2z M933.5 566.3h2v2.7h-2z M936.5 566.1h2v2.9h-2z M939.5 566.0h2v3.0h-2z M942.5 565.9h2v3.1h-2z M972.5 568.2h2v0.8h-2z M975.5 567.4h2v1.6h-2z M984.5 568.0h2v1.0h-2z M987.5 564.8h2v4.2h-2z M990.5 560.5h2v8.5h-2z M993.5 557.0h2v12.0h-2z M996.5 553.9h2v15.1h-2z M999.5 552.8h2v16.2h-2z M1002.5 552.0h2v17.0h-2z M1008.5 553.8h2v15.2h-2z M1047.5 567.6h2v1.4h-2z M1050.5 565.4h2v3.6h-2z M1053.5 564.6h2v4.4h-2z M1056.5 563.9h2v5.1h-2z M1068.5 564.9h2v4.1h-2z M1072.5 564.7h2v4.3h-2z M1078.5 564.2h2v4.8h-2z M1081.5 562.4h2v6.6h-2z M1093.5 566.1h2v2.9h-2z M1096.5 565.7h2v3.3h-2z M1099.5 565.4h2v3.6h-2z" fill="#26a69a"/>
<path d="M0.5 569.0h2v0.8h-2z M88.5 561.7h2v7.3h-2z M94.5 561.9h2v7.1h-2z M97.5 563.2h2v5.8h-2z M100.5 563.5h2v5.5h-2z M103.5 563.7h2v5.3h-2z M106.5 566.6h2v2.4h-2z M184.5 568.4h2v0.8h-2z M257.5 565.3h2v3.7h-2z M260.5 566.0h2v3.0h-2z M263.5 566.3h2v2.7h-2z M266.5 566.8h2v2.2h-2z M269.5 566.8h2v2.2h-2z M284.5 561.6h2v7.4h-2z M287.5 561.7h2v7.3h-2z M293.5 561.6h2v7.4h-2z M296.5 561.8h2v7.2h-2z M308.5 560.2h2v8.8h-2z M311.5 563.7h2v5.3h-2z M314.5 566.2h2v2.8h-2z M317.5 566.2h2v2.8h-2z M323.5 565.5h2v3.5h-2z M326.5 566.4h2v2.6h-2z M329.5 568.2h2v0.8h-2z M380.5 554.3h2v14.7h-2z M383.5 560.2h2v8.8h-2z M386.5 567.6h2v1.4h-2z M408.5 568.9h2v0.8h-2z M462.5 560.3h2v8.7h-2z M465.5 563.4h2v5.6h-2z M468.5 567.2h2v1.8h-2z M486.5 562.3h2v6.7h-2z M501.5 552.4h2v16.6h-2z M504.5 558.4h2v10.6h-2z M507.5 565.6h2v3.4h-2z M549.5 566.1h2v2.9h-2z M601.5 556.9h2v12.1h-2z M604.5 561.8h2v7.2h-2z M607.5 567.7h2v1.3h-2z M661.5 560.5h2v8.5h-2z M664.5 565.5h2v3.5h-2z M718.5 562.3h2v6.7h-2z M721.5 563.5h2v5.5h-2z M749.5 542.6h2v26.4h-2z M752.5 550.0h2v19.0h-2z M755.5 557.7h2v11.3h-2z M758.5 565.0h2v4.0h-2z M794.5 562.9h2v6.1h-2z M797.5 567.9h2v1.1h-2z M927.5 567.8h2v1.2h-2z M945.5 566.6h2v2.4h-2z M948.5 568.0h2v1.0h-2z M951.5 568.9h2v0.8h-2z M978.5 568.3h2v0.8h-2z M981.5 569.0h2v0.8h-2z M1005.5 554.3h2v14.7h-2z M1011.5 554.7h2v14.3h-2z M1014.5 555.1h2v13.9h-2z M1017.5 557.5h2v11.5h-2z M1020.5 558.6h2v10.4h-2z M1023.5 559.8h2v9.2h-2z M1026.5 561.6h2v7.4h-2z M1029.5 564.2h2v4.8h-2z M1032.5 565.3h2v3.7h-2z M1035.5 565.6h2v3.4h-2z M1038.5 567.2h2v1.8h-2z M1041.5 567.9h2v1.1h-2z M1044.5 568.5h2v0.8h-2z M1059.5 564.4h2v4.6h-2z M1062.5 564.5h2v4.5h-2z M1065.5 565.0h2v4.0h-2z M1075.5 565.2h2v3.8h-2z M1084.5 562.4h2v6.6h-2z M1087.5 565.5h2v3.5h-2z M1090.5 566.1h2v2.9h-2z M1102.5 567.0h2v2.0h-2z" fill="#b2dfdb"/>
<path d="M3.5 569.0h2v0.8h-2z M6.5 569.0h2v0.8h-2z M9.5 569.0h2v1.0h-2z M15.5 569.0h2v0.9h-2z M18.5 569.0h2v1.2h-2z M27.5 569.0h2v1.4h-2z M30.5 569.0h2v1.7h-2z M36.5 569.0h2v1.0h-2z M42.5 569.0h2v1.7h-2z M45.5 569.0h2v2.6h-2z M48.5 569.0h2v2.7h-2z M109.5 569.0h2v1.8h-2z M112.5 569.0h2v4.3h-2z M115.5 569.0h2v6.0h-2z M118.5 569.0h2v6.9h-2z M136.5 569.0h2v2.7h-2z M139.5 569.0h2v3.0h-2z M145.5 569.0h2v2.9h-2z M151.5 569.0h2v2.6h-2z M154.5 569.0h2v2.9h-2z M160.5 569.0h2v2.7h-2z M166.5 569.0h2v2.5h-2z M187.5 569.0h2v1.3h-2z M190.5 569.0h2v2.1h-2z M193.5 569.0h2v2.6h-2z M196.5 569.0h2v3.1h-2z M217.5 569.0h2v0.8h-2z M220.5 569.0h2v1.5h-2z M223.5 569.0h2v2.9h-2z M226.5 569.0h2v4.6h-2z M229.5 569.0h2v6.7h-2z M233.5 569.0h2v8.5h-2z M332.5 569.0h2v1.3h-2z M335.5 569.0h2v3.6h-2z M338.5 569.0h2v6.5h-2z M341.5 569.0h2v9.5h-2z M344.5 569.0h2v10.7h-2z M389.5 569.0h2v4.8h-2z M392.5 569.0h2v8.7h-2z M395.5 569.0h2v8.8h-2z M411.5 569.0h2v2.1h-2z M414.5 569.0h2v4.5h-2z M417.5 569.0h2v6.6h-2z M420.5 569.0h2v7.3h-2z M423.5 569.0h2v8.4h-2z M510.5 569.0h2v4.3h-2z M513.5 569.0h2v11.6h-2z M516.5 569.0h2v18.0h-2z M519.5 569.0h2v23.3h-2z M522.5 569.0h2v25.5h-2z M552.5 569.0h2v1.1h-2z M555.5 569.0h2v4.9h-2z M558.5 569.0h2v7.1h-2z M561.5 569.0h2v7.7h-2z M564.5 569.0h2v10.7h-2z M610.5 569.0h2v4.7h-2z M613.5 569.0h2v9.1h-2z M616.5 569.0h2v12.9h-2z M619.5 569.0h2v16.3h-2z M622.5 569.0h2v18.7h-2z M625.5 569.0h2v19.7h-2z M628.5 569.0h2v19.9h-2z M667.5 569.0h2v0.8h-2z M670.5 569.0h2v4.0h-2z M673.5 569.0h2v6.9h-2z M676.5 569.0h2v9.2h-2z M679.5 569.0h2v10.8h-2z M682.5 569.0h2v12.4h-2z M685.5 569.0h2v15.1h-2z M688.5 569.0h2v18.9h-2z M691.5 569.0h2v21.4h-2z M694.5 569.0h2v23.5h-2z M761.5 569.0h2v1.6h-2z M764.5 569.0h2v1.8h-2z M767.5 569.0h2v4.5h-2z M770.5 569.0h2v4.7h-2z M800.5 569.0h2v2.4h-2z M803.5 569.0h2v4.5h-2z M806.5 569.0h2v7.4h-2z M821.5 569.0h2v3.0h-2z M824.5 569.0h2v5.4h-2z M827.5 569.0h2v8.4h-2z M830.5 569.0h2v10.8h-2z M833.5 569.0h2v14.0h-2z M836.5 569.0h2v16.4h-2z M839.5 569.0h2v18.1h-2z M851.5 569.0h2v17.1h-2z M878.5 569.0h2v8.8h-2z M881.5 569.0h2v9.5h-2z M884.5 569.0h2v9.9h-2z M887.5 569.0h2v10.8h-2z M954.5 569.0h2v0.8h-2z M960.5 569.0h2v0.8h-2z M963.5 569.0h2v1.7h-2z M1105.5 569.0h2v2.7h-2z M1108.5 569.0h2v9.2h-2z M1111.5 569.0h2v12.8h-2z M1114.5 569.0h2v16.1h-2z M1117.5 569.0h2v17.4h-2z M1120.5 569.0h2v19.3h-2z M1132.5 569.0h2v17.4h-2z M1135.5 569.0h2v18.2h-2z M1138.5 569.0h2v18.5h-2z M1141.5 569.0h2v19.2h-2z" fill="#ff5252"/>
<path d="M12.5 569.0h2v0.8h-2z M21.5 569.0h2v1.1h-2z M24.5 569.0h2v0.8h-2z M33.5 569.0h2v0.8h-2z M39.5 569.0h2v0.9h-2z M51.5 569.0h2v2.5h-2z M54.5 569.0h2v2.2h-2z M57.5 569.0h2v0.9h-2z M121.5 569.0h2v6.2h-2z M124.5 569.0h2v5.4h-2z M127.5 569.0h2v2.7h-2z M130.5 569.0h2v1.7h-2z M133.5 569.0h2v1.5h-2z M142.5 569.0h2v2.6h-2z M148.5 569.0h2v2.5h-2z M157.5 569.0h2v2.5h-2z M163.5 569.0h2v2.5h-2z M169.5 569.0h2v1.9h-2z M172.5 569.0h2v0.8h-2z M175.5 569.0h2v0.8h-2z M199.5 569.0h2v1.8h-2z M202.5 569.0h2v1.3h-2z M205.5 569.0h2v0.8h-2z M208.5 569.0h2v0.8h-2z M211.5 569.0h2v0.8h-2z M214.5 569.0h2v0.8h-2z M236.5 569.0h2v7.8h-2z M239.5 569.0h2v5.8h-2z M242.5 569.0h2v3.5h-2z M245.5 569.0h2v1.0h-2z M347.5 569.0h2v9.9h-2z M350.5 569.0h2v6.3h-2z M353.5 569.0h2v3.2h-2z M399.5 569.0h2v6.3h-2z M402.5 569.0h2v2.5h-2z M426.5 569.0h2v8.2h-2z M429.5 569.0h2v7.7h-2z M432.5 569.0h2v7.2h-2z M435.5 569.0h2v6.7h-2z M438.5 569.0h2v6.4h-2z M441.5 569.0h2v6.1h-2z M444.5 569.0h2v5.8h-2z M447.5 569.0h2v5.3h-2z M450.5 569.0h2v4.8h-2z M453.5 569.0h2v3.0h-2z M525.5 569.0h2v21.6h-2z M528.5 569.0h2v15.2h-2z M531.5 569.0h2v8.6h-2z M534.5 569.0h2v4.0h-2z M537.5 569.0h2v1.8h-2z M568.5 569.0h2v8.1h-2z M571.5 569.0h2v4.6h-2z M574.5 569.0h2v0.8h-2z M631.5 569.0h2v18.4h-2z M634.5 569.0h2v13.3h-2z M637.5 569.0h2v7.9h-2z M640.5 569.0h2v7.1h-2z M643.5 569.0h2v3.1h-2z M697.5 569.0h2v16.3h-2z M700.5 569.0h2v8.2h-2z M703.5 569.0h2v1.5h-2z M773.5 569.0h2v1.2h-2z M809.5 569.0h2v5.7h-2z M812.5 569.0h2v3.0h-2z M815.5 569.0h2v1.6h-2z M818.5 569.0h2v1.4h-2z M842.5 569.0h2v17.9h-2z M845.5 569.0h2v17.0h-2z M848.5 569.0h2v16.9h-2z M854.5 569.0h2v16.6h-2z M857.5 569.0h2v15.2h-2z M860.5 569.0h2v13.7h-2z M863.5 569.0h2v12.9h-2z M866.5 569.0h2v12.1h-2z M869.5 569.0h2v12.1h-2z M872.5 569.0h2v10.1h-2z M875.5 569.0h2v8.3h-2z M890.5 569.0h2v10.8h-2z M893.5 569.0h2v9.8h-2z M896.5 569.0h2v5.8h-2z M899.5 569.0h2v2.9h-2z M903.5 569.0h2v2.1h-2z M906.5 569.0h2v1.7h-2z M909.5 569.0h2v0.8h-2z M957.5 569.0h2v0.8h-2z M966.5 569.0h2v1.6h-2z M969.5 569.0h2v0.8h-2z M1123.5 569.0h2v18.6h-2z M1126.5 569.0h2v18.3h-2z M1129.5 569.0h2v16.3h-2z M1144.5 569.0h2v18.3h-2z M1147.5 569.0h2v17.4h-2z M1150.5 569.0h2v14.7h-2z M1153.5 569.0h2v12.9h-2z" fill="#ffcdd2"/>
<polyline points="-1.9,555.7 1.1,556.1 4.1,556.7 7.2,557.1 10.2,557.7 13.2,557.6 16.2,558.0 19.2,558.6 22.2,558.8 25.3,558.6 28.3,559.6 31.3,560.4 34.3,559.6 37.3,560.1 40.4,560.2 43.4,561.5 46.4,563.0 49.4,563.7 52.4,564.2 55.4,564.4 58.5,563.3 61.5,560.7 64.5,558.7 67.5,557.9 70.5,556.3 73.6,554.7 76.6,552.1 79.6,549.0 82.6,547.2 85.6,544.0 88.6,542.9 91.7,539.6 94.7,539.3 97.7,539.1 100.7,537.9 103.7,536.9 106.8,539.2 109.8,543.8 112.8,547.5 115.8,550.6 118.8,553.2 121.8,554.0 124.9,554.6 127.9,552.6 130.9,552.0 133.9,552.1 136.9,554.0 140.0,555.1 143.0,555.3 146.0,556.3 149.0,556.6 152.0,557.3 155.0,558.3 158.1,558.5 161.1,559.4 164.1,559.8 167.1,560.4 170.1,560.3 173.2,559.3 176.2,558.6 179.2,557.6 182.2,556.1 185.2,557.2 188.2,559.4 191.3,560.8 194.3,561.9 197.3,563.1 200.3,562.3 203.3,562.2 206.3,561.9 209.4,562.0 212.4,561.8 215.4,561.5 218.4,562.0 221.4,563.4 224.5,565.6 227.5,568.4 230.5,572.1 233.5,576.1 236.5,577.3 239.5,576.7 242.6,575.3 245.6,573.0 248.6,570.1 251.6,567.1 254.6,564.5 257.7,564.8 260.7,564.8 263.7,564.4 266.7,564.3 269.7,563.8 272.7,562.7 275.8,560.2 278.8,557.1 281.8,553.6 284.8,551.8 287.8,550.1 290.9,548.0 293.9,546.2 296.9,544.7 299.9,541.4 302.9,536.3 305.9,533.1 309.0,533.3 312.0,535.5 315.0,537.2 318.0,536.6 321.0,534.9 324.1,534.1 327.1,534.3 330.1,535.9 333.1,538.3 336.1,541.6 339.1,546.0 342.2,551.4 345.2,555.3 348.2,557.0 351.2,554.9 354.2,552.6 357.2,549.3 360.3,547.1 363.3,544.1 366.3,542.9 369.3,538.2 372.3,529.7 375.4,520.9 378.4,513.7 381.4,514.7 384.4,518.4 387.4,525.4 390.4,532.8 393.5,538.9 396.5,541.2 399.5,540.2 402.5,537.1 405.5,533.6 408.6,534.2 411.6,537.0 414.6,540.5 417.6,544.3 420.6,546.8 423.6,550.0 426.7,551.8 429.7,553.2 432.7,554.5 435.7,555.7 438.7,557.0 441.8,558.2 444.8,559.4 447.8,560.2 450.8,560.9 453.8,559.9 456.8,549.5 459.9,542.8 462.9,542.0 465.9,543.7 468.9,547.1 471.9,546.4 475.0,544.8 478.0,542.9 481.0,539.9 484.0,536.8 487.0,535.2 490.0,529.0 493.1,520.6 496.1,513.6 499.1,508.7 502.1,505.9 505.1,509.3 508.1,515.6 511.2,524.4 514.2,534.6 517.2,545.5 520.2,556.6 523.2,565.2 526.3,566.7 529.3,564.1 532.3,559.7 535.3,556.1 538.3,554.4 541.3,551.2 544.4,546.5 547.4,543.3 550.4,546.0 553.4,550.3 556.4,555.3 559.5,559.2 562.5,561.7 565.5,567.4 568.5,566.9 571.5,564.5 574.5,559.9 577.6,556.2 580.6,551.6 583.6,547.5 586.6,543.5 589.6,540.5 592.7,537.7 595.7,534.2 598.7,530.0 601.7,527.1 604.7,530.2 607.7,535.7 610.8,542.9 613.8,549.6 616.8,556.6 619.8,564.1 622.8,571.1 625.9,577.1 628.9,582.3 631.9,585.4 634.9,583.7 637.9,580.2 640.9,581.2 644.0,578.0 647.0,573.1 650.0,569.3 653.0,566.1 656.0,562.8 659.0,559.0 662.1,557.3 665.1,561.5 668.1,565.4 671.1,570.0 674.1,574.6 677.2,579.2 680.2,583.5 683.2,588.2 686.2,594.7 689.2,603.3 692.2,611.1 695.3,619.0 698.3,616.0 701.3,609.9 704.3,603.6 707.3,598.4 710.4,594.8 713.4,591.4 716.4,588.9 719.4,588.0 722.4,587.8 725.4,583.5 728.5,578.5 731.5,570.0 734.5,559.7 737.5,550.6 740.5,542.6 743.6,530.5 746.6,520.8 749.6,519.5 752.6,522.1 755.6,526.9 758.6,533.2 761.7,539.3 764.7,539.9 767.7,543.8 770.7,545.1 773.7,541.8 776.8,538.7 779.8,535.0 782.8,530.6 785.8,525.7 788.8,522.6 791.8,517.9 794.9,522.1 797.9,526.8 800.9,530.8 803.9,534.0 806.9,538.9 809.9,538.6 813.0,536.6 816.0,535.7 819.0,535.7 822.0,538.1 825.0,541.9 828.1,546.9 831.1,552.0 834.1,558.7 837.1,565.2 840.1,571.4 843.1,575.7 846.2,579.1 849.2,583.2 852.2,587.7 855.2,591.4 858.2,593.8 861.3,595.6 864.3,598.1 867.3,600.3 870.3,603.3 873.3,603.8 876.3,604.2 879.4,606.9 882.4,609.9 885.4,612.8 888.4,616.4 891.4,619.1 894.5,620.5 897.5,617.9 900.5,615.9 903.5,615.5 906.5,615.6 909.5,614.6 912.6,612.8 915.6,612.1 918.6,611.7 921.6,610.8 924.6,610.3 927.6,610.6 930.7,609.4 933.7,608.0 936.7,607.1 939.7,606.2 942.7,605.3 945.8,605.5 948.8,606.6 951.8,607.4 954.8,608.5 957.8,607.9 960.8,608.6 963.9,610.0 966.9,610.4 969.9,608.8 972.9,607.7 975.9,606.5 979.0,607.2 982.0,608.0 985.0,606.7 988.0,602.5 991.0,596.1 994.0,589.5 997.1,582.6 1000.1,577.5 1003.1,572.5 1006.1,571.0 1009.1,566.7 1012.2,564.0 1015.2,561.0 1018.2,560.5 1021.2,559.1 1024.2,557.9 1027.2,557.8 1030.3,559.3 1033.3,559.5 1036.3,558.8 1039.3,560.0 1042.3,560.5 1045.4,561.0 1048.4,559.7 1051.4,556.6 1054.4,554.7 1057.4,552.8 1060.4,552.1 1063.5,551.0 1066.5,550.6 1069.5,549.5 1072.5,548.1 1075.5,547.7 1078.5,545.6 1081.6,542.1 1084.6,540.4 1087.6,542.6 1090.6,542.6 1093.6,541.8 1096.7,540.6 1099.7,539.4 1102.7,540.5 1105.7,545.8 1108.7,554.6 1111.7,561.5 1114.8,568.7 1117.8,574.4 1120.8,581.2 1123.8,585.1 1126.8,589.4 1129.9,591.5 1132.9,597.0 1135.9,602.3 1138.9,607.2 1141.9,612.7 1144.9,616.4 1148.0,619.9 1151.0,620.9 1154.0,622.2" fill="none" stroke="#2549c0" stroke-width="1.4"/>
<polyline points="-1.9,556.1 1.1,556.1 4.1,556.2 7.2,556.4 10.2,556.7 13.2,556.9 16.2,557.1 19.2,557.4 22.2,557.7 25.3,557.8 28.3,558.2 31.3,558.6 34.3,558.8 37.3,559.1 40.4,559.3 43.4,559.7 46.4,560.4 49.4,561.1 52.4,561.7 55.4,562.2 58.5,562.5 61.5,562.1 64.5,561.4 67.5,560.7 70.5,559.8 73.6,558.8 76.6,557.5 79.6,555.8 82.6,554.1 85.6,552.0 88.6,550.2 91.7,548.1 94.7,546.3 97.7,544.9 100.7,543.5 103.7,542.2 106.8,541.6 109.8,542.0 112.8,543.1 115.8,544.6 118.8,546.3 121.8,547.9 124.9,549.2 127.9,549.9 130.9,550.3 133.9,550.7 136.9,551.4 140.0,552.1 143.0,552.7 146.0,553.5 149.0,554.1 152.0,554.7 155.0,555.4 158.1,556.0 161.1,556.7 164.1,557.3 167.1,557.9 170.1,558.4 173.2,558.6 176.2,558.6 179.2,558.4 182.2,557.9 185.2,557.8 188.2,558.1 191.3,558.6 194.3,559.3 197.3,560.1 200.3,560.5 203.3,560.9 206.3,561.1 209.4,561.3 212.4,561.4 215.4,561.4 218.4,561.5 221.4,561.9 224.5,562.6 227.5,563.8 230.5,565.5 233.5,567.6 236.5,569.5 239.5,571.0 242.6,571.8 245.6,572.1 248.6,571.7 251.6,570.8 254.6,569.5 257.7,568.6 260.7,567.8 263.7,567.1 266.7,566.6 269.7,566.0 272.7,565.4 275.8,564.3 278.8,562.9 281.8,561.0 284.8,559.2 287.8,557.4 290.9,555.5 293.9,553.6 296.9,551.8 299.9,549.8 302.9,547.1 305.9,544.3 309.0,542.1 312.0,540.8 315.0,540.0 318.0,539.4 321.0,538.5 324.1,537.6 327.1,536.9 330.1,536.7 333.1,537.1 336.1,538.0 339.1,539.6 342.2,541.9 345.2,544.6 348.2,547.1 351.2,548.6 354.2,549.4 357.2,549.4 360.3,548.9 363.3,548.0 366.3,547.0 369.3,545.2 372.3,542.1 375.4,537.9 378.4,533.0 381.4,529.4 384.4,527.2 387.4,526.8 390.4,528.0 393.5,530.2 396.5,532.4 399.5,533.9 402.5,534.6 405.5,534.4 408.6,534.3 411.6,534.9 414.6,536.0 417.6,537.7 420.6,539.5 423.6,541.6 426.7,543.6 429.7,545.5 432.7,547.3 435.7,549.0 438.7,550.6 441.8,552.1 444.8,553.6 447.8,554.9 450.8,556.1 453.8,556.9 456.8,555.4 459.9,552.9 462.9,550.7 465.9,549.3 468.9,548.8 471.9,548.3 475.0,547.6 478.0,546.7 481.0,545.3 484.0,543.6 487.0,541.9 490.0,539.4 493.1,535.6 496.1,531.2 499.1,526.7 502.1,522.5 505.1,519.9 508.1,519.0 511.2,520.1 514.2,523.0 517.2,527.5 520.2,533.3 523.2,539.7 526.3,545.1 529.3,548.9 532.3,551.1 535.3,552.1 538.3,552.5 541.3,552.3 544.4,551.1 547.4,549.6 550.4,548.9 553.4,549.1 556.4,550.4 559.5,552.1 562.5,554.0 565.5,556.7 568.5,558.7 571.5,559.9 574.5,559.9 577.6,559.1 580.6,557.6 583.6,555.6 586.6,553.2 589.6,550.7 592.7,548.1 595.7,545.3 598.7,542.2 601.7,539.2 604.7,537.4 607.7,537.1 610.8,538.2 613.8,540.5 616.8,543.7 619.8,547.8 622.8,552.5 625.9,557.4 628.9,562.4 631.9,567.0 634.9,570.3 637.9,572.3 640.9,574.1 644.0,574.9 647.0,574.5 650.0,573.5 653.0,572.0 656.0,570.2 659.0,567.9 662.1,565.8 665.1,564.9 668.1,565.0 671.1,566.0 674.1,567.8 677.2,570.1 680.2,572.7 683.2,575.8 686.2,579.6 689.2,584.3 692.2,589.7 695.3,595.6 698.3,599.6 701.3,601.7 704.3,602.1 707.3,601.3 710.4,600.0 713.4,598.3 716.4,596.4 719.4,594.7 722.4,593.4 725.4,591.4 728.5,588.8 731.5,585.0 734.5,580.0 737.5,574.1 740.5,567.8 743.6,560.3 746.6,552.4 749.6,545.8 752.6,541.1 755.6,538.2 758.6,537.2 761.7,537.6 764.7,538.1 767.7,539.2 770.7,540.4 773.7,540.7 776.8,540.3 779.8,539.2 782.8,537.5 785.8,535.1 788.8,532.6 791.8,529.7 794.9,528.2 797.9,527.9 800.9,528.5 803.9,529.6 806.9,531.4 809.9,532.9 813.0,533.6 816.0,534.0 819.0,534.4 822.0,535.1 825.0,536.5 828.1,538.6 831.1,541.2 834.1,544.7 837.1,548.8 840.1,553.4 843.1,557.8 846.2,562.1 849.2,566.3 852.2,570.6 855.2,574.7 858.2,578.5 861.3,582.0 864.3,585.2 867.3,588.2 870.3,591.2 873.3,593.8 876.3,595.8 879.4,598.0 882.4,600.4 885.4,602.9 888.4,605.6 891.4,608.3 894.5,610.7 897.5,612.2 900.5,612.9 903.5,613.4 906.5,613.9 909.5,614.0 912.6,613.8 915.6,613.4 918.6,613.1 921.6,612.6 924.6,612.2 927.6,611.9 930.7,611.4 933.7,610.7 936.7,610.0 939.7,609.2 942.7,608.4 945.8,607.8 948.8,607.6 951.8,607.6 954.8,607.8 957.8,607.8 960.8,607.9 963.9,608.4 966.9,608.8 969.9,608.8 972.9,608.6 975.9,608.2 979.0,608.0 982.0,608.0 985.0,607.7 988.0,606.7 991.0,604.6 994.0,601.5 997.1,597.8 1000.1,593.7 1003.1,589.4 1006.1,585.8 1009.1,582.0 1012.2,578.4 1015.2,574.9 1018.2,572.0 1021.2,569.4 1024.2,567.1 1027.2,565.3 1030.3,564.1 1033.3,563.1 1036.3,562.3 1039.3,561.8 1042.3,561.6 1045.4,561.5 1048.4,561.1 1051.4,560.2 1054.4,559.1 1057.4,557.8 1060.4,556.7 1063.5,555.6 1066.5,554.6 1069.5,553.5 1072.5,552.5 1075.5,551.5 1078.5,550.3 1081.6,548.7 1084.6,547.0 1087.6,546.1 1090.6,545.4 1093.6,544.7 1096.7,543.9 1099.7,543.0 1102.7,542.5 1105.7,543.2 1108.7,545.5 1111.7,548.7 1114.8,552.7 1117.8,557.0 1120.8,561.9 1123.8,566.5 1126.8,571.1 1129.9,575.2 1132.9,579.5 1135.9,584.1 1138.9,588.7 1141.9,593.5 1144.9,598.1 1148.0,602.4 1151.0,606.1 1154.0,609.3" fill="none" stroke="#c05c14" stroke-width="1.4"/>
<path d="M0 355.5H1280M0 495.5H1280" stroke="#b2b5be" stroke-width="1"/>
</svg>
<div style="position:absolute;left:6px;top:6.5px;width:12px;height:12px;border-radius:50%;background:radial-gradient(circle at 45% 50%,#a89c88 0,#ddd6ca 30%,#f4f4f4 55%)"></div>
<div class="t" style="left:21px;top:6px;font-size:11.2px;color:#e6e6e6;font-weight:normal;transform:scaleX(0.965);transform-origin:0 0;-webkit-text-stroke:0.45px #e6e6e6;">KITE / TetherUS · 4h · Binance</div>
<div style="position:absolute;left:174px;top:5px;width:14px;height:14px;border-radius:50%;background:rgba(8,153,129,0.12)"></div>
<div style="position:absolute;left:178px;top:9px;width:6px;height:6px;border-radius:50%;background:#11a58c"></div>
<div class="t" style="left:192.5px;top:6.5px;font-size:10.6px;color:#e6e6e6;font-weight:normal;transform:scaleX(0.865);transform-origin:0 0;-webkit-text-stroke:0.2px currentColor;">O<span style="color:#f23645">0.1758</span> H<span style="color:#f23645">0.1758</span> L<span style="color:#f23645">0.1715</span> C<span style="color:#f23645">0.1717</span> <span style="color:#f23645">−0.0040 (−2.28%)</span></div>
<div style="position:absolute;left:6px;top:22px;width:43px;height:25px;border:1px solid #d02b38;border-radius:4px;background:#141414"></div>
<div class="t" style="left:6px;width:43px;text-align:center;top:25px;font-size:9.4px;font-weight:bold;color:#f23645">0.1717</div>
<div class="t" style="left:6px;width:43px;text-align:center;top:35px;font-size:7.2px;font-weight:bold;color:#f23645">SELL</div>
<div class="t" style="left:54.5px;top:31px;font-size:7.6px;color:#cfcfcf;font-weight:normal;transform:scaleX(0.9);transform-origin:0 0;-webkit-text-stroke:0.3px currentColor;">0.0001</div>
<div style="position:absolute;left:81px;top:22px;width:44px;height:25px;border:1px solid #2a5ee8;border-radius:4px;background:#141414"></div>
<div class="t" style="left:81px;width:44px;text-align:center;top:25px;font-size:9.4px;font-weight:bold;color:#3468f5">0.1718</div>
<div class="t" style="left:81px;width:44px;text-align:center;top:35px;font-size:7.2px;font-weight:bold;color:#3468f5">BUY</div>
<div style="position:absolute;left:1238px;top:3px;width:41px;height:17.5px;border:1px solid #333;border-radius:3px;background:#121212"></div>
<div class="t" style="left:1241.3px;top:6.8px;font-size:9.4px;color:#d8d8d8;font-weight:normal;transform:scaleX(0.82);transform-origin:0 0;-webkit-text-stroke:0.3px currentColor;">USDT</div>
<svg style="left:1272px;top:10.5px" width="5" height="3" viewBox="0 0 5 3"><path d="M0.5 0.5L2.5 2.3L4.5 0.5" fill="none" stroke="#bbb" stroke-width="1"/></svg>
<div class="t" style="left:1241.3px;top:28.5px;font-size:9.8px;color:#d6d6d6;font-weight:normal;transform:scaleX(0.87);transform-origin:0 0;-webkit-text-stroke:0.3px currentColor;">0.3200</div>
<div class="t" style="left:1241.3px;top:58.4px;font-size:9.8px;color:#d6d6d6;font-weight:normal;transform:scaleX(0.87);transform-origin:0 0;-webkit-text-stroke:0.3px currentColor;">0.3000</div>
<div class="t" style="left:1241.3px;top:88.3px;font-size:9.8px;color:#d6d6d6;font-weight:normal;transform:scaleX(0.87);transform-origin:0 0;-webkit-text-stroke:0.3px currentColor;">0.2800</div>
<div class="t" style="left:1241.3px;top:118.2px;font-size:9.8px;color:#d6d6d6;font-weight:normal;transform:scaleX(0.87);transform-origin:0 0;-webkit-text-stroke:0.3px currentColor;">0.2600</div>
<div class="t" style="left:1241.3px;top:148.1px;font-size:9.8px;color:#d6d6d6;font-weight:normal;transform:scaleX(0.87);transform-origin:0 0;-webkit-text-stroke:0.3px currentColor;">0.2400</div>
<div class="t" style="left:1241.3px;top:177.9px;font-size:9.8px;color:#d6d6d6;font-weight:normal;transform:scaleX(0.87);transform-origin:0 0;-webkit-text-stroke:0.3px currentColor;">0.2200</div>
<div class="t" style="left:1241.3px;top:207.8px;font-size:9.8px;color:#d6d6d6;font-weight:normal;transform:scaleX(0.87);transform-origin:0 0;-webkit-text-stroke:0.3px currentColor;">0.2000</div>
<div class="t" style="left:1241.3px;top:237.7px;font-size:9.8px;color:#d6d6d6;font-weight:normal;transform:scaleX(0.87);transform-origin:0 0;-webkit-text-stroke:0.3px currentColor;">0.1800</div>
<div class="t" style="left:1241.3px;top:267.6px;font-size:9.8px;color:#d6d6d6;font-weight:normal;transform:scaleX(0.87);transform-origin:0 0;-webkit-text-stroke:0.3px currentColor;">0.1600</div>
<div class="t" style="left:1241.3px;top:297.5px;font-size:9.8px;color:#d6d6d6;font-weight:normal;transform:scaleX(0.87);transform-origin:0 0;-webkit-text-stroke:0.3px currentColor;">0.1400</div>
<div class="t" style="left:1241.3px;top:327.3px;font-size:9.8px;color:#d6d6d6;font-weight:normal;transform:scaleX(0.87);transform-origin:0 0;-webkit-text-stroke:0.3px currentColor;">0.1200</div>
<div style="position:absolute;left:1236px;top:249px;width:42px;height:21.5px;background:#f23645;border-radius:1px"></div>
<div class="t" style="left:1241.5px;top:249.8px;font-size:9.8px;color:#fff;font-weight:normal;transform:scaleX(0.88);transform-origin:0 0;-webkit-text-stroke:0.3px currentColor;">0.1717</div>
<div class="t" style="left:1241.5px;top:259.8px;font-size:9.8px;color:#fff;font-weight:normal;transform:scaleX(0.86);transform-origin:0 0;-webkit-text-stroke:0.3px currentColor;">01:19:58</div>
<div class="t" style="left:5.5px;top:362.5px;font-size:10px;color:#e6e6e6;font-weight:normal;transform:scaleX(0.9);transform-origin:0 0;-webkit-text-stroke:0.25px currentColor;">RSI 14 close <span style="color:#8d6ad6">&nbsp;27.11</span> <span style="color:#e8c21a">32.00</span></div>
<div class="t" style="left:1241.3px;top:368.3px;font-size:9.8px;color:#d6d6d6;font-weight:normal;transform:scaleX(0.87);transform-origin:0 0;-webkit-text-stroke:0.3px currentColor;">80.00</div>
<div class="t" style="left:1241.3px;top:409.2px;font-size:9.8px;color:#d6d6d6;font-weight:normal;transform:scaleX(0.87);transform-origin:0 0;-webkit-text-stroke:0.3px currentColor;">60.00</div>
<div class="t" style="left:1241.3px;top:450.0px;font-size:9.8px;color:#d6d6d6;font-weight:normal;transform:scaleX(0.87);transform-origin:0 0;-webkit-text-stroke:0.3px currentColor;">40.00</div>
<div style="position:absolute;left:1236px;top:462.8px;width:29.5px;height:11.5px;background:#f2c81c"></div>
<div class="t" style="left:1240.8px;top:463.8px;font-size:9.8px;color:#1a1a1a;font-weight:normal;transform:scaleX(0.95);transform-origin:0 0;-webkit-text-stroke:0.3px currentColor;">32.00</div>
<div style="position:absolute;left:1236px;top:475px;width:29.5px;height:11.5px;background:#7e57c2"></div>
<div class="t" style="left:1240.8px;top:476.1px;font-size:9.8px;color:#fff;font-weight:normal;transform:scaleX(0.95);transform-origin:0 0;-webkit-text-stroke:0.3px currentColor;">27.11</div>
<div class="t" style="left:5.5px;top:502.7px;font-size:10px;color:#e6e6e6;font-weight:normal;transform:scaleX(0.865);transform-origin:0 0;-webkit-text-stroke:0.25px currentColor;">MACD close 12 26 9 <span style="color:#f5c2c6">&nbsp;−0.0035</span> <span style="color:#2f66ff">&nbsp;−0.0143</span> <span style="color:#f46b12">&nbsp;−0.0108</span></div>
<div class="t" style="left:1241.3px;top:527.7px;font-size:9.8px;color:#d6d6d6;font-weight:normal;transform:scaleX(0.87);transform-origin:0 0;-webkit-text-stroke:0.3px currentColor;">0.0100</div>
<div class="t" style="left:1241.3px;top:564.5px;font-size:9.8px;color:#d6d6d6;font-weight:normal;transform:scaleX(0.87);transform-origin:0 0;-webkit-text-stroke:0.3px currentColor;">0.0000</div>
<div class="t" style="left:1241.3px;top:601.3px;font-size:9.8px;color:#d6d6d6;font-weight:normal;transform:scaleX(0.87);transform-origin:0 0;-webkit-text-stroke:0.3px currentColor;">−0.0100</div>
<div style="position:absolute;left:1236px;top:576.2px;width:39px;height:11.7px;background:#ffcdd2"></div>
<div class="t" style="left:1242.3px;top:577.4px;font-size:9.8px;color:#3a3a3a;font-weight:normal;transform:scaleX(0.86);transform-origin:0 0;-webkit-text-stroke:0.3px currentColor;">−0.0035</div>
<div style="position:absolute;left:1236px;top:603.7px;width:39px;height:11.7px;background:#ff6d00"></div>
<div class="t" style="left:1242.3px;top:604.9px;font-size:9.8px;color:#fff;font-weight:normal;transform:scaleX(0.86);transform-origin:0 0;-webkit-text-stroke:0.3px currentColor;">−0.0108</div>
<div style="position:absolute;left:1236px;top:616.6px;width:39px;height:11.7px;background:#2962ff"></div>
<div class="t" style="left:1242.3px;top:617.8px;font-size:9.8px;color:#fff;font-weight:normal;transform:scaleX(0.86);transform-origin:0 0;-webkit-text-stroke:0.3px currentColor;">−0.0143</div>
<svg style="left:8px;top:614px" width="22" height="12" viewBox="0 0 22 12"><path d="M0 0H8V12H4V4H0Z" fill="#e8e8e8"/><circle cx="11" cy="2" r="2" fill="#e8e8e8"/><path d="M16 0H21L16 12H11Z" fill="#e8e8e8"/></svg>
<div class="t" style="left:34.3px;top:612.2px;font-size:14.2px;color:#e8e8e8;font-weight:bold;letter-spacing:0.15px;">TradingView</div>
<div class="t" style="left:-0.8px;width:40px;text-align:center;top:639px;font-size:9.6px;font-weight:bold;color:#e0e0e0;transform:scaleX(0.9)">25</div>
<div class="t" style="left:35.4px;width:40px;text-align:center;top:639px;font-size:9.6px;font-weight:bold;color:#e0e0e0;transform:scaleX(0.9)">27</div>
<div class="t" style="left:71.6px;width:40px;text-align:center;top:639px;font-size:9.6px;font-weight:bold;color:#e0e0e0;transform:scaleX(0.9)">29</div>
<div class="t" style="left:126.0px;width:40px;text-align:center;top:639px;font-size:9.6px;font-weight:bold;color:#e0e0e0;transform:scaleX(0.9)">Feb</div>
<div class="t" style="left:162.2px;width:40px;text-align:center;top:639px;font-size:9.6px;font-weight:bold;color:#e0e0e0;transform:scaleX(0.9)">3</div>
<div class="t" style="left:198.4px;width:40px;text-align:center;top:639px;font-size:9.6px;font-weight:bold;color:#e0e0e0;transform:scaleX(0.9)">5</div>
<div class="t" style="left:234.6px;width:40px;text-align:center;top:639px;font-size:9.6px;font-weight:bold;color:#e0e0e0;transform:scaleX(0.9)">7</div>
<div class="t" style="left:270.8px;width:40px;text-align:center;top:639px;font-size:9.6px;font-weight:bold;color:#e0e0e0;transform:scaleX(0.9)">9</div>
<div class="t" style="left:307.0px;width:40px;text-align:center;top:639px;font-size:9.6px;font-weight:bold;color:#e0e0e0;transform:scaleX(0.9)">11</div>
<div class="t" style="left:343.2px;width:40px;text-align:center;top:639px;font-size:9.6px;font-weight:bold;color:#e0e0e0;transform:scaleX(0.9)">13</div>
<div class="t" style="left:379.5px;width:40px;text-align:center;top:639px;font-size:9.6px;font-weight:bold;color:#e0e0e0;transform:scaleX(0.9)">15</div>
<div class="t" style="left:415.7px;width:40px;text-align:center;top:639px;font-size:9.6px;font-weight:bold;color:#e0e0e0;transform:scaleX(0.9)">17</div>
<div class="t" style="left:451.9px;width:40px;text-align:center;top:639px;font-size:9.6px;font-weight:bold;color:#e0e0e0;transform:scaleX(0.9)">19</div>
<div class="t" style="left:488.1px;width:40px;text-align:center;top:639px;font-size:9.6px;font-weight:bold;color:#e0e0e0;transform:scaleX(0.9)">21</div>
<div class="t" style="left:524.3px;width:40px;text-align:center;top:639px;font-size:9.6px;font-weight:bold;color:#e0e0e0;transform:scaleX(0.9)">23</div>
<div class="t" style="left:560.5px;width:40px;text-align:center;top:639px;font-size:9.6px;font-weight:bold;color:#e0e0e0;transform:scaleX(0.9)">25</div>
<div class="t" style="left:596.8px;width:40px;text-align:center;top:639px;font-size:9.6px;font-weight:bold;color:#e0e0e0;transform:scaleX(0.9)">27</div>
<div class="t" style="left:633.0px;width:40px;text-align:center;top:639px;font-size:9.6px;font-weight:bold;color:#e0e0e0;transform:scaleX(0.9)">Mar</div>
<div class="t" style="left:669.2px;width:40px;text-align:center;top:639px;font-size:9.6px;font-weight:bold;color:#e0e0e0;transform:scaleX(0.9)">3</div>
<div class="t" style="left:705.4px;width:40px;text-align:center;top:639px;font-size:9.6px;font-weight:bold;color:#e0e0e0;transform:scaleX(0.9)">5</div>
<div class="t" style="left:741.6px;width:40px;text-align:center;top:639px;font-size:9.6px;font-weight:bold;color:#e0e0e0;transform:scaleX(0.9)">7</div>
<div class="t" style="left:777.8px;width:40px;text-align:center;top:639px;font-size:9.6px;font-weight:bold;color:#e0e0e0;transform:scaleX(0.9)">9</div>
<div class="t" style="left:814.1px;width:40px;text-align:center;top:639px;font-size:9.6px;font-weight:bold;color:#e0e0e0;transform:scaleX(0.9)">11</div>
<div class="t" style="left:850.3px;width:40px;text-align:center;top:639px;font-size:9.6px;font-weight:bold;color:#e0e0e0;transform:scaleX(0.9)">13</div>
<div class="t" style="left:886.5px;width:40px;text-align:center;top:639px;font-size:9.6px;font-weight:bold;color:#e0e0e0;transform:scaleX(0.9)">15</div>
<div class="t" style="left:922.7px;width:40px;text-align:center;top:639px;font-size:9.6px;font-weight:bold;color:#e0e0e0;transform:scaleX(0.9)">17</div>
<div class="t" style="left:958.9px;width:40px;text-align:center;top:639px;font-size:9.6px;font-weight:bold;color:#e0e0e0;transform:scaleX(0.9)">19</div>
<div class="t" style="left:995.1px;width:40px;text-align:center;top:639px;font-size:9.6px;font-weight:bold;color:#e0e0e0;transform:scaleX(0.9)">21</div>
<div class="t" style="left:1031.4px;width:40px;text-align:center;top:639px;font-size:9.6px;font-weight:bold;color:#e0e0e0;transform:scaleX(0.9)">23</div>
<div class="t" style="left:1067.6px;width:40px;text-align:center;top:639px;font-size:9.6px;font-weight:bold;color:#e0e0e0;transform:scaleX(0.9)">25</div>
<div class="t" style="left:1103.8px;width:40px;text-align:center;top:639px;font-size:9.6px;font-weight:bold;color:#e0e0e0;transform:scaleX(0.9)">27</div>
<div class="t" style="left:1140.0px;width:40px;text-align:center;top:639px;font-size:9.6px;font-weight:bold;color:#e0e0e0;transform:scaleX(0.9)">29</div>
<div class="t" style="left:1194.3px;width:40px;text-align:center;top:639px;font-size:9.6px;font-weight:bold;color:#e0e0e0;transform:scaleX(0.9)">Apr</div>
<svg style="left:1253px;top:638px" width="12" height="12" viewBox="0 0 12 12"><path d="M3.2 1.2H8.8L11.5 6L8.8 10.8H3.2L0.5 6Z" fill="none" stroke="#d0d0d0" stroke-width="1"/><circle cx="6" cy="6" r="1.6" fill="#888"/></svg>
</body></html>
